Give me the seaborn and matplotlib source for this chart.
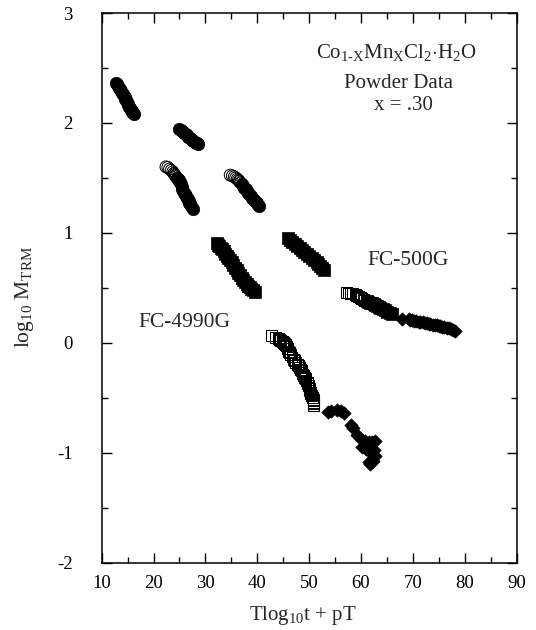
import matplotlib
matplotlib.use("Agg")
import matplotlib.pyplot as plt
import seaborn as sns
from matplotlib.ticker import MultipleLocator

# ---------------- data ----------------
filled_circle_x = [12.83, 13.00, 13.20, 13.40, 13.60, 13.78, 13.95, 14.10, 14.25, 14.40, 14.55,
                   14.70, 14.85, 15.00, 15.15, 15.30, 15.45, 15.60, 15.75, 15.90, 16.05, 16.24,
                   24.93, 25.20, 25.45, 25.70, 25.95, 26.20, 26.45, 26.70, 26.95, 27.20, 27.45,
                   27.70, 27.95, 28.20, 28.40, 28.63,
                   24.49, 24.65, 24.83, 24.98, 25.12, 25.27, 25.41, 25.58, 25.75, 25.92, 26.10,
                   26.25, 26.39, 26.58, 26.78, 26.92, 27.07, 27.30, 27.56,
                   37.02, 37.27, 37.51, 37.75, 38.00, 38.24, 38.48, 38.72, 38.97, 39.20, 39.46,
                   39.70, 39.95, 40.15, 40.34]
filled_circle_y = [2.360, 2.350, 2.337, 2.322, 2.306, 2.290, 2.275, 2.260, 2.246, 2.232, 2.218,
                   2.204, 2.190, 2.176, 2.162, 2.148, 2.134, 2.120, 2.107, 2.095, 2.087, 2.080,
                   1.940, 1.932, 1.924, 1.915, 1.906, 1.896, 1.886, 1.876, 1.866, 1.856, 1.847,
                   1.838, 1.829, 1.821, 1.815, 1.810,
                   1.500, 1.490, 1.480, 1.470, 1.460, 1.440, 1.420, 1.400, 1.380, 1.365, 1.350,
                   1.335, 1.320, 1.305, 1.290, 1.275, 1.260, 1.240, 1.220,
                   1.440, 1.425, 1.410, 1.395, 1.380, 1.365, 1.350, 1.335, 1.320, 1.307, 1.295,
                   1.282, 1.270, 1.257, 1.245]

open_circle_x = [22.39, 22.75, 23.07, 23.40, 23.71, 23.90, 24.05, 24.20, 24.35,
                 34.78, 35.20, 35.56, 35.85, 36.14, 36.35, 36.53, 36.75]
open_circle_y = [1.600, 1.595, 1.580, 1.568, 1.555, 1.540, 1.530, 1.520, 1.510,
                 1.525, 1.518, 1.510, 1.500, 1.490, 1.480, 1.470, 1.455]

filled_square_x = [32.19, 32.45, 32.68, 32.92, 33.17, 33.50, 33.80, 34.10, 34.44, 34.75, 35.07,
                   35.40, 35.75, 36.05, 36.34, 36.68, 37.02, 37.30, 37.61, 37.95, 38.29, 38.58,
                   38.88, 39.20, 39.56,
                   46.00, 46.40, 46.78, 47.20, 47.66, 48.15, 48.63, 49.10, 49.61, 50.05, 50.49,
                   50.95, 51.46, 51.80, 52.14, 52.50, 52.92,
                   61.12, 61.45, 61.80, 62.10, 62.43, 62.75, 63.07, 63.40, 63.75, 64.20, 64.63,
                   65.10, 65.61, 66.00]
filled_square_y = [0.905, 0.893, 0.880, 0.866, 0.850, 0.830, 0.810, 0.792, 0.775, 0.752, 0.730,
                   0.705, 0.680, 0.657, 0.635, 0.612, 0.590, 0.572, 0.555, 0.537, 0.520, 0.505,
                   0.490, 0.475, 0.460,
                   0.957, 0.938, 0.920, 0.900, 0.880, 0.860, 0.840, 0.822, 0.805, 0.788, 0.770,
                   0.750, 0.730, 0.712, 0.695, 0.678, 0.660,
                   0.380, 0.372, 0.365, 0.357, 0.350, 0.342, 0.335, 0.327, 0.320, 0.307, 0.295,
                   0.282, 0.270, 0.260]

open_square_x = [42.78, 43.46, 44.09, 44.35, 44.53, 44.80, 45.02, 45.20, 45.41, 45.55, 45.70,
                 45.85, 46.00, 46.25, 46.48, 46.70, 46.97, 47.20, 47.46, 47.70, 47.95, 48.15,
                 48.34, 48.50, 48.63, 48.78, 48.92, 49.07, 49.22, 49.40, 49.61, 49.75, 49.90,
                 49.98, 50.05, 50.12, 50.19, 50.33, 50.48, 50.63, 50.78, 50.80, 50.83, 50.85,
                 50.87,
                 57.17, 57.60, 58.00, 58.45, 58.88, 59.10, 59.36, 59.60, 59.85, 60.15, 60.43,
                 60.75]
open_square_y = [0.067, 0.050, 0.037, 0.028, 0.020, 0.010, 0.000, -0.008, -0.015, -0.022, -0.030,
                 -0.052, -0.076, -0.093, -0.110, -0.130, -0.150, -0.165, -0.180, -0.195, -0.210,
                 -0.225, -0.240, -0.255, -0.270, -0.285, -0.300, -0.315, -0.330, -0.345, -0.360,
                 -0.375, -0.390, -0.405, -0.420, -0.435, -0.450, -0.465, -0.480, -0.497, -0.515,
                 -0.530, -0.545, -0.558, -0.570,
                 0.456, 0.452, 0.448, 0.444, 0.440, 0.432, 0.425, 0.418, 0.410, 0.402, 0.395,
                 0.388]

diamond_x = [67.94, 69.20, 69.50, 69.90, 70.30, 70.70, 71.10, 71.46, 71.90, 72.30, 72.70, 73.10,
             73.41, 73.80, 74.20, 74.60, 75.00, 75.31, 75.70, 76.10, 76.50, 76.92, 77.30, 77.70,
             78.19,
             53.55, 54.30, 55.40, 56.10, 56.80, 58.00, 58.50, 59.30, 59.80, 60.83, 61.50, 62.20,
             62.76, 60.20, 61.00, 61.80, 62.50, 61.80, 61.50, 62.40, 62.70]
diamond_y = [0.213, 0.215, 0.210, 0.205, 0.200, 0.196, 0.192, 0.190, 0.185, 0.180, 0.175, 0.172,
             0.170, 0.165, 0.160, 0.157, 0.153, 0.150, 0.145, 0.140, 0.135, 0.130, 0.122, 0.115,
             0.107,
             -0.630, -0.620, -0.615, -0.625, -0.640, -0.750, -0.780, -0.840, -0.870, -0.890,
             -0.900, -0.900, -0.890, -0.950, -0.970, -0.990, -0.980, -1.100, -1.090, -1.080,
             -1.030]

x_ticks = [10, 20, 30, 40, 50, 60, 70, 80, 90]
y_ticks = [-2, -1, 0, 1, 2, 3]

title_lines = [r"Co$_{\rm 1\text{-}X}$Mn$_{\rm X}$Cl$_2$$\cdot$H$_2$O", "Powder Data", "x = .30"]
label_high = "FC-500G"
label_low = "FC-4990G"

# ---------------- style ----------------
sns.set_style("ticks")
plt.rcParams["font.family"] = ["Liberation Serif", "DejaVu Serif"]
plt.rcParams["mathtext.fontset"] = "custom"
plt.rcParams["mathtext.rm"] = "Liberation Serif"
plt.rcParams["mathtext.it"] = "Liberation Serif:italic"
plt.rcParams["mathtext.default"] = "rm"
plt.rcParams["axes.unicode_minus"] = False

W, H = 536, 630
fig = plt.figure(figsize=(W / 100, H / 100), dpi=100)
L, R, T, B = 101.7, 516.5, 13.0, 562.5
ax = fig.add_axes([L / W, 1 - B / H, (R - L) / W, (B - T) / H])

# filled circles
sns.scatterplot(x=filled_circle_x, y=filled_circle_y, marker="o", s=80, color="black",
                edgecolor="black", linewidth=0.5, ax=ax, zorder=3)
# open circles
sns.scatterplot(x=open_circle_x, y=open_circle_y, marker="o", s=72, color="black",
                edgecolor="black", linewidth=0.7, ax=ax, zorder=3)
ax.collections[-1].set_facecolor("none")
# filled squares
sns.scatterplot(x=filled_square_x, y=filled_square_y, marker="s", s=66, color="black",
                edgecolor="black", linewidth=0.5, ax=ax, zorder=3)
# open squares
sns.scatterplot(x=open_square_x, y=open_square_y, marker="s", s=62, color="black",
                edgecolor="black", linewidth=0.75, ax=ax, zorder=3)
ax.collections[-1].set_facecolor("none")
# filled diamonds
sns.scatterplot(x=diamond_x, y=diamond_y, marker="D", s=46, color="black",
                edgecolor="black", linewidth=0.5, ax=ax, zorder=3)

ax.set_xlim(10, 90)
ax.set_ylim(-2, 3)
ax.set_xticks(x_ticks)
ax.set_yticks(y_ticks)
ax.xaxis.set_minor_locator(MultipleLocator(5))
ax.yaxis.set_minor_locator(MultipleLocator(0.5))
ax.tick_params(which="both", direction="in", top=True, right=True, width=1.0, colors="black")
ax.tick_params(which="major", length=7)
ax.tick_params(which="minor", length=4)
ax.tick_params(axis="x", which="major", labelsize=13.5, pad=9)
ax.tick_params(axis="y", which="major", labelsize=13.5, pad=21)
for sp in ax.spines.values():
    sp.set_visible(True)
    sp.set_linewidth(1.1)
    sp.set_color("black")

ax.set_xlabel(r"Tlog$_{10}$t + pT", fontsize=15)
ax.set_ylabel(r"log$_{10}$ M$_{\rm TRM}$", fontsize=15.5)
ax.xaxis.set_label_coords((303 - L) / (R - L), (B - 604) / (B - T))
ax.yaxis.set_label_coords((36 - L) / (R - L), (B - 297) / (B - T))

ax.text(66.8, 2.644, title_lines[0], fontsize=15, ha="center", va="center")
ax.text(67.3, 2.356, title_lines[1], fontsize=15, ha="center", va="center")
ax.text(68.1, 2.16, title_lines[2], fontsize=15, ha="center", va="center")
ax.text(69.1, 0.75, label_high, fontsize=15.5, ha="center", va="center")
ax.text(25.9, 0.18, label_low, fontsize=15.5, ha="center", va="center")

fig.savefig("out.png", dpi=100)
